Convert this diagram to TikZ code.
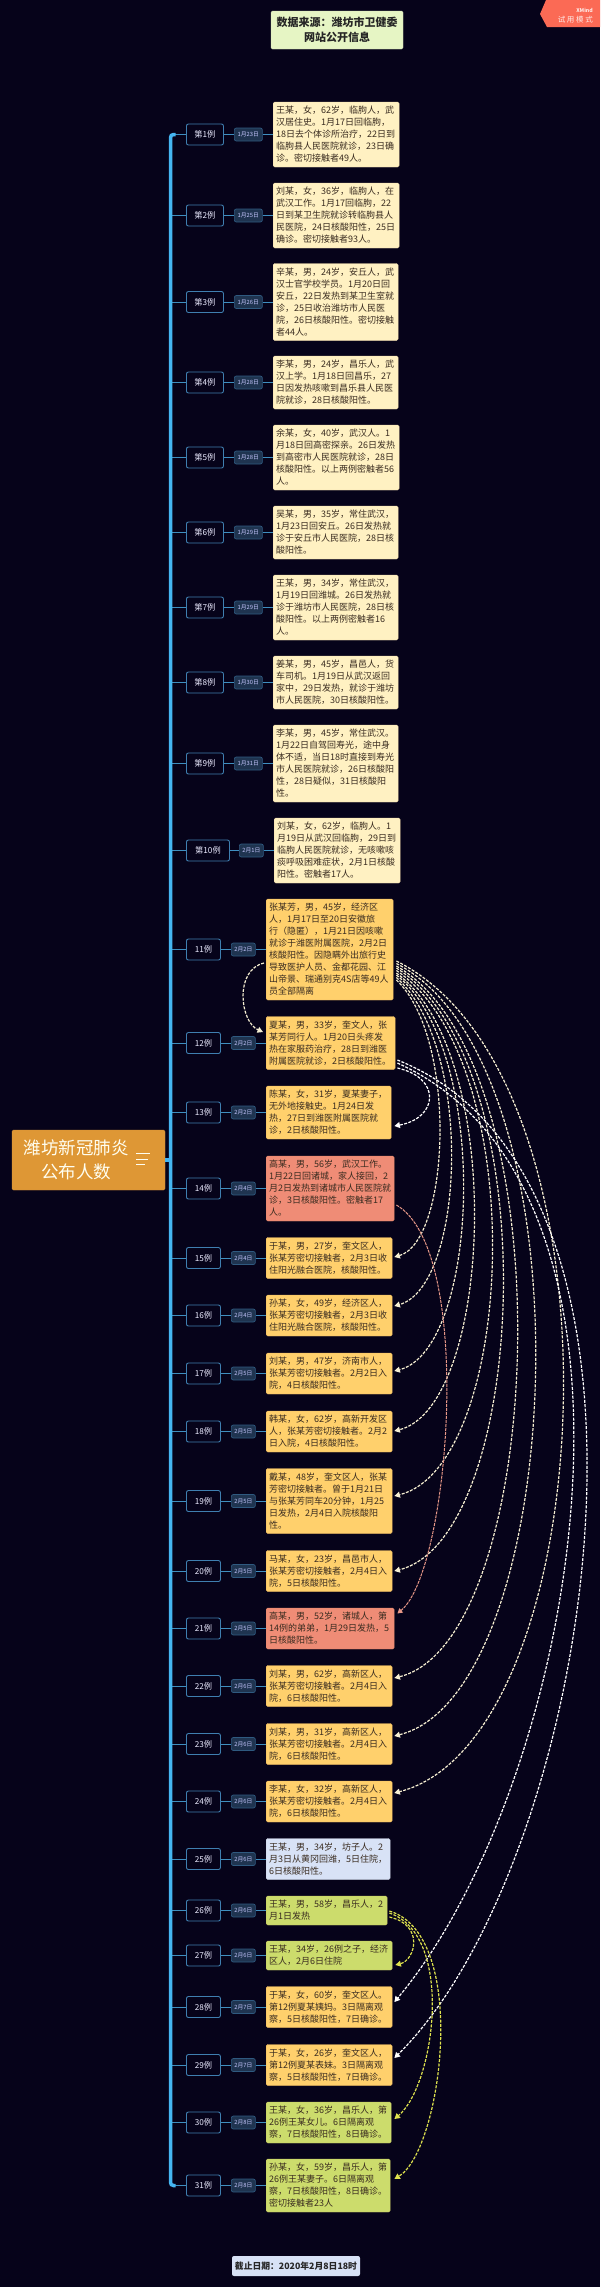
\documentclass[tikz,border=0pt]{standalone}
\usepackage{fontspec}
\usepackage{tikz}
\usetikzlibrary{arrows.meta}
\setmainfont{Noto Sans CJK SC}
\definecolor{pagebg}{HTML}{06031A}
\definecolor{trunkblue}{HTML}{45B6F2}
\definecolor{stemblue}{HTML}{3F8FC0}
\definecolor{caseedge}{HTML}{3F7FB0}
\definecolor{tagfill}{HTML}{1F3450}
\definecolor{tagedge}{HTML}{2F5A80}
\definecolor{sourcefill}{HTML}{E6F5C4}
\definecolor{notepalefill}{HTML}{FFF1C2}
\definecolor{noteorangefill}{HTML}{FFD06C}
\definecolor{noteredfill}{HTML}{EF8C76}
\definecolor{notebluefill}{HTML}{D8E2F6}
\definecolor{notegreenfill}{HTML}{CCDC6C}
\definecolor{notetext}{HTML}{3A2C20}
\definecolor{rootfill}{HTML}{DE9735}
\definecolor{badgefill}{HTML}{FB6A55}
\definecolor{linkcream}{HTML}{F6EFD2}
\definecolor{linkred}{HTML}{E89888}
\definecolor{linkgreen}{HTML}{DEE24E}
\tikzset{
	casebox/.style={draw=caseedge, line width=0.9pt, fill=pagebg, rounded corners=2pt, inner sep=0pt, minimum height=21pt, text=white!92!blue, font=\fontsize{8.2}{10}\selectfont},
	datetag/.style={draw=tagedge, line width=0.7pt, fill=tagfill, rounded corners=2pt, inner sep=0pt, minimum height=13pt, text=white!78!blue, font=\fontsize{5.8}{7}\selectfont},
	notebox/.style={rounded corners=1.5pt, inner xsep=3pt, inner ysep=0pt, align=left, text=notetext, font=\fontsize{9}{12}\selectfont},
	notepale/.style={notebox, fill=notepalefill, draw=notepalefill!80!brown},
	noteorange/.style={notebox, fill=noteorangefill, draw=noteorangefill!70!brown},
	notered/.style={notebox, fill=noteredfill, draw=noteredfill!80!brown},
	noteblue/.style={notebox, fill=notebluefill, draw=notebluefill!85!gray},
	notegreen/.style={notebox, fill=notegreenfill, draw=notegreenfill!80!brown},
	stem/.style={stemblue, line width=1pt},
	trunk/.style={trunkblue, line width=3.5pt},
	link/.style={dash pattern=on 3pt off 1.4pt, line width=1.2pt, -{Triangle[length=5.5pt,width=6pt]}},
}

\begin{document}
\begin{tikzpicture}[x=1pt,y=-1pt]
	\fill[pagebg] (0,0) rectangle (600,2287);
	\useasboundingbox (0,0) rectangle (600,2287);
	% top right mark
	\fill[badgefill] (546,0) -- (540,14) -- (547,27) -- (600,27) -- (600,0) -- cycle;
	\node[anchor=east, inner sep=0pt, text=white!85!badgefill, font=\bfseries\fontsize{5.2}{6}\selectfont] (markname) at (593,10.5) {XMind};
	\node[anchor=east, inner sep=0pt, text=white!85!badgefill, font=\fontsize{7.5}{9}\selectfont] (marktext) at (593,20) {试 用 模 式};
	% title and closing date
	\node[fill=sourcefill, draw=sourcefill!85!gray, rounded corners=1.5pt, inner sep=0pt, minimum width=132pt, minimum height=38pt, align=center, text=black!85, font=\bfseries\fontsize{11}{14.7}\selectfont] (source) at (337,30) {数据来源：潍坊市卫健委\\网站公开信息};
	\node[fill=notebluefill, rounded corners=2pt, inner sep=0pt, minimum width=128pt, minimum height=20pt, text=black!85, font=\bfseries\fontsize{8.8}{11}\selectfont] (cutoff) at (296,2266) {截止日期：2020年2月8日18时};
	% all the cases
	\foreach \n/\yc/\dt/\kind/\xr/\lines/\txt in {
		1/134.5/1月23日/notepale/399/5/王某，女，62岁，临朐人，武\\汉居住史。1月17日回临朐，\\18日去个体诊所治疗，22日到\\临朐县人民医院就诊，23日确\\诊。密切接触者49人。,
		2/215.5/1月25日/notepale/399/5/刘某，女，36岁，临朐人，在\\武汉工作。1月17回临朐，22\\日到某卫生院就诊转临朐县人\\民医院，24日核酸阳性，25日\\确诊。密切接触者93人。,
		3/302/1月26日/notepale/398/6/辛某，男，24岁，安丘人，武\\汉士官学校学员。1月20日回\\安丘，22日发热到某卫生室就\\诊，25日收治潍坊市人民医\\院，26日核酸阳性。密切接触\\者44人。,
		4/382.5/1月28日/notepale/398/4/李某，男，24岁，昌乐人，武\\汉上学。1月18日回昌乐，27\\日因发热咳嗽到昌乐县人民医\\院就诊，28日核酸阳性。,
		5/457.5/1月28日/notepale/399/5/余某，女，40岁，武汉人。1\\月18日回高密探亲。26日发热\\到高密市人民医院就诊，28日\\核酸阳性。以上两例密触者56\\人。,
		6/532.5/1月29日/notepale/398/4/吴某，男，35岁，常住武汉，\\1月23日回安丘。26日发热就\\诊于安丘市人民医院，28日核\\酸阳性。,
		7/607.5/1月29日/notepale/398/5/王某，男，34岁，常住武汉，\\1月19日回潍城。26日发热就\\诊于潍坊市人民医院，28日核\\酸阳性。以上两例密触者16\\人。,
		8/682.5/1月30日/notepale/398/4/姜某，男，45岁，昌邑人，货\\车司机。1月19日从武汉返回\\家中，29日发热，就诊于潍坊\\市人民医院，30日核酸阳性。,
		9/763.5/1月31日/notepale/398/6/李某，男，45岁，常住武汉。\\1月22日自驾回寿光，途中身\\体不适，当日18时直接到寿光\\市人民医院就诊，26日核酸阳\\性，28日疑似，31日核酸阳\\性。,
		10/850.5/2月1日/notepale/400/5/刘某，女，62岁，临朐人。1\\月19日从武汉回临朐，29日到\\临朐人民医院就诊，无咳嗽咳\\痰呼吸困难症状，2月1日核酸\\阳性。密触者17人。,
		11/949.5/2月2日/noteorange/393/8/张某芳，男，45岁，经济区\\人，1月17日至20日安徽旅\\行（隐匿），1月21日因咳嗽\\就诊于潍医附属医院，2月2日\\核酸阳性。因隐瞒外出旅行史\\导致医护人员、金都花园、江\\山帝景、瑞通别克4S店等49人\\员全部隔离,
		12/1043/2月2日/noteorange/395/4/夏某，男，33岁，奎文人，张\\某芳同行人。1月20日头疼发\\热在家服药治疗，28日到潍医\\附属医院就诊，2日核酸阳性。,
		13/1112.5/2月2日/noteorange/391/4/陈某，女，31岁，夏某妻子，\\无外地接触史。1月24日发\\热，27日到潍医附属医院就\\诊，2日核酸阳性。,
		14/1188.5/2月4日/notered/394/5/高某，男，56岁，武汉工作。\\1月22日回诸城，家人接回，2\\月2日发热到诸城市人民医院就\\诊，3日核酸阳性。密触者17\\人。,
		15/1258/2月4日/noteorange/392/3/于某，男，27岁，奎文区人，\\张某芳密切接触者，2月3日收\\住阳光融合医院，核酸阳性。,
		16/1315.5/2月4日/noteorange/392/3/孙某，女，49岁，经济区人，\\张某芳密切接触者，2月3日收\\住阳光融合医院，核酸阳性。,
		17/1373.5/2月5日/noteorange/392/3/刘某，男，47岁，济南市人，\\张某芳密切接触者。2月2日入\\院，4日核酸阳性。,
		18/1431.5/2月5日/noteorange/392/3/韩某，女，62岁，高新开发区\\人，张某芳密切接触者。2月2\\日入院，4日核酸阳性。,
		19/1501/2月5日/noteorange/392/5/戴某，48岁，奎文区人，张某\\芳密切接触者。曾于1月21日\\与张某芳同车20分钟，1月25\\日发热，2月4日入院核酸阳\\性。,
		20/1571/2月5日/noteorange/392/3/马某，女，23岁，昌邑市人，\\张某芳密切接触者，2月4日入\\院，5日核酸阳性。,
		21/1628.5/2月5日/notered/394/3/高某，男，52岁，诸城人，第\\14例的弟弟，1月29日发热，5\\日核酸阳性。,
		22/1686/2月6日/noteorange/392/3/刘某，男，62岁，高新区人，\\张某芳密切接触者。2月4日入\\院，6日核酸阳性。,
		23/1744/2月6日/noteorange/392/3/刘某，男，31岁，高新区人，\\张某芳密切接触者。2月4日入\\院，6日核酸阳性。,
		24/1801.5/2月6日/noteorange/392/3/李某，女，32岁，高新区人，\\张某芳密切接触者。2月4日入\\院，6日核酸阳性。,
		25/1859/2月6日/noteblue/390/3/王某，男，34岁，坊子人。2\\月3日从黄冈回潍，5日住院，\\6日核酸阳性。,
		26/1910.5/2月6日/notegreen/387/2/王某，男，58岁，昌乐人，2\\月1日发热,
		27/1955.5/2月6日/notegreen/392/2/王某，34岁，26例之子，经济\\区人，2月6日住院,
		28/2007/2月7日/noteorange/392/3/于某，女，60岁，奎文区人。\\第12例夏某姨妈。3日隔离观\\察，5日核酸阳性，7日确诊。,
		29/2065/2月7日/noteorange/392/3/于某，女，26岁，奎文区人，\\第12例夏某表妹。3日隔离观\\察，5日核酸阳性，7日确诊。,
		30/2122.5/2月8日/notegreen/391/3/王某，女，36岁，昌乐人，第\\26例王某女儿。6日隔离观\\察，7日核酸阳性，8日确诊。,
		31/2185.5/2月8日/notegreen/390/4/孙某，女，59岁，昌乐人，第\\26例王某妻子。6日隔离观\\察，7日核酸阳性，8日确诊。\\密切接触者23人} {
		\ifnum\n<10
			\def\lab{第\n 例}\def\casew{37}\def\tagx{234}\def\tagw{28}\def\textx{273}
		\else\ifnum\n=10
			\def\lab{第\n 例}\def\casew{43}\def\tagx{239}\def\tagw{24}\def\textx{274}
		\else
			\def\lab{\n 例}\def\casew{34}\def\tagx{231}\def\tagw{24}\def\textx{266}
		\fi\fi
		\pgfmathsetmacro{\notew}{\xr-\textx}
		\coordinate (b\n) at (170.5,\yc);
		\node[casebox, anchor=west, minimum width=\casew pt] (c\n) at (186,\yc) {\lab};
		\node[datetag, anchor=west, minimum width=\tagw pt] (d\n) at (\tagx,\yc) {\dt};
		\node[\kind, anchor=west, text width=\notew pt-6pt, minimum height=12pt*\lines+5pt] (t\n) at (\textx,\yc) {\txt};
		\draw[stem] (b\n) -- (c\n);
		\draw[stem] (c\n) -- (d\n);
		\draw[stem] (d\n) -- (t\n);
	}
	% main line and the root
	\draw[trunk, rounded corners=3pt] ([xshift=5pt]b1) -- (b1) -- (b31) -- ([xshift=5pt]b31);
	\coordinate (rootjoin) at (170.5,1160);
	\node[fill=rootfill, draw=rootfill!85!brown, rounded corners=1.5pt, inner sep=0pt, minimum width=153pt, minimum height=60pt] (root) at (88.5,1160) {};
	\draw[trunk] (root.east) -- (rootjoin);
	\node[align=center, text=white!94!yellow, inner sep=0pt, font=\fontsize{17.5}{24}\selectfont] (roottext) at (76,1160) {潍坊新冠肺炎\\公布人数};
	\foreach \yy/\xx in {1153/150,1159/148,1164/145}
		\draw[white!94!yellow, line width=1pt] (136,\yy) -- (\xx,\yy);
	% relations, going out of case 11
	\draw[linkcream, link] ([shift={(-2,13.5)}]t11.west) .. controls (234,970) and (240,1022) .. ([shift={(-3,-11)}]t12.west);
	\foreach \tgt/\ya/\yb/\cax/\cay/\cbx/\cby in {
		15/30.5/-1/458/1038/450/1241,
		16/28/-9.5/474/1047/465/1286,
		17/25.5/-2.5/491/1050/480/1349,
		18/23.5/-0.5/507/1054/493/1406,
		19/21/-5/533/1063/515/1466,
		20/18.5/0/548/1063/529/1537,
		22/16.5/-8/568/1064/547/1640,
		23/14/-8/595/1066/568/1692,
		24/11.5/-8.5/634/1080/603/1739}
		\draw[linkcream, link] ([shift={(3,\ya)}]t11.east) .. controls (\cax,\cay) and (\cbx,\cby) .. ([shift={(2,\yb)}]t\tgt.east);
	% case 12
	\draw[white, link] ([shift={(2,25)}]t12.east) .. controls (442,1078) and (438,1118) .. ([shift={(3,13.5)}]t13.east);
	\draw[white, link] ([shift={(2,20)}]t12.east) .. controls (680,1190) and (580,1780) .. ([shift={(2,-5)}]t28.east);
	\draw[white, link] ([shift={(2,17)}]t12.east) .. controls (700,1180) and (595,1860) .. ([shift={(2,-7)}]t29.east);
	% case 14
	\draw[linkred, dash pattern=on 3pt off 1pt, line width=1pt, -{Triangle[length=5pt,width=5.5pt]}] ([shift={(2,16.5)}]t14.east) .. controls (475,1250) and (450,1570) .. ([shift={(3,-15)}]t21.east);
	% case 26
	\draw[linkgreen, link] ([shift={(2,6.5)}]t26.east) .. controls (425,1925) and (415,1960) .. ([shift={(3,9.5)}]t27.east);
	\draw[linkgreen, link] ([shift={(2,2.5)}]t26.east) .. controls (455,1935) and (435,2085) .. ([shift={(3,-3.5)}]t30.east);
	\draw[linkgreen, link] ([shift={(2,0.5)}]t26.east) .. controls (470,1935) and (442,2150) .. ([shift={(4,-6.5)}]t31.east);
\end{tikzpicture}
\end{document}
